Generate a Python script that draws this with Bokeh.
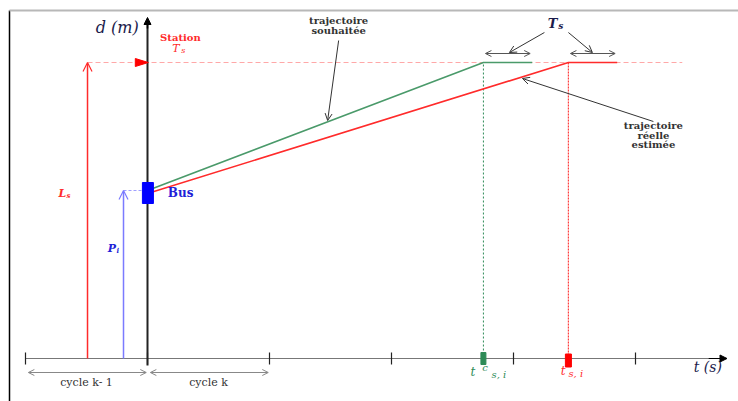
from bokeh.plotting import figure
from bokeh.models import Range1d, Arrow, OpenHead, NormalHead
from bokeh.core.properties import value
from bokeh.embed import file_html
from bokeh.resources import INLINE

# ---------------- data (time in s, distance in m) ----------------
cycle_ticks = [-30, 0, 30, 60, 90, 120]
cycle_names = ["cycle k- 1", "cycle k"]
L_s = 296            # station position
P_i = 168            # bus position
bus_d = 165.5        # bus marker centre
t_c = 82.6           # desired arrival time  t^c_{s,i}
t_s = 103.5          # estimated arrival time t_{s,i}
T_s = 12             # dwell time at station
desired_t = [0, 82.6, 94.6]
desired_d = [168, 296, 296]
real_t = [0, 103.5, 115.5]
real_d = [165, 296, 296]

# ---------------- layout / styles ----------------
SX = 122 / 30.0       # px per second
W, H = 738, 401
SERIF = value("DejaVu Serif")
NAVY = "#1c1c4c"
RED = "#ff2b2b"
GREEN = "#4a9a6a"
DGREEN = "#2e8b57"
BLUE = "#1f1fd8"
GRAY = "#555555"

p = figure(width=W, height=H,
           x_range=Range1d(-147 / SX, (W - 147) / SX), y_range=Range1d(358 - H, 358),
           x_axis_type=None, y_axis_type=None, toolbar_location=None,
           output_backend="svg", min_border=0, outline_line_color=None,
           background_fill_color="white", border_fill_color="white")

x_ls = -14.75   # L_s arrow position
x_pi = -5.9     # P_i arrow position
x_left = -138 / SX

# frame lines (left / top)
p.segment(x0=[x_left], y0=[358 - H], x1=[x_left], y1=[348], line_color="black", line_width=1.5)
p.segment(x0=[x_left], y0=[348], x1=[(W - 147) / SX], y1=[348], line_color="#b8b8b8", line_width=2)

# station dashed level
p.line([x_ls, 131.5], [L_s, L_s], line_color="#ffa8a8", line_width=1.2, line_dash="5 3")

# dotted arrival verticals
p.line([t_c, t_c], [0, L_s], line_color=DGREEN, line_width=1, line_dash="2 2")
p.line([t_s, t_s], [0, L_s], line_color="#ff4040", line_width=1.2, line_dash="2 1")

# time axis
p.line([cycle_ticks[0], 141.9], [0, 0], line_color="#777777", line_width=1)
p.add_layout(Arrow(end=NormalHead(size=7, fill_color="black", line_color="black"),
                   x_start=138, y_start=0, x_end=142.5, y_end=0,
                   line_color="black", line_width=1))
p.segment(x0=cycle_ticks, y0=[-6] * 6, x1=cycle_ticks, y1=[6] * 6,
          line_color="#222222", line_width=1.2)

# distance axis
p.line([0, 0], [-7, 336], line_color="#222222", line_width=2)
p.add_layout(Arrow(end=NormalHead(size=7, fill_color="black", line_color="black"),
                   x_start=0, y_start=330, x_end=0, y_end=341,
                   line_color="black", line_width=1.5))

# L_s and P_i arrows
p.add_layout(Arrow(end=OpenHead(size=9, line_color=RED, line_width=1.2),
                   x_start=x_ls, y_start=0, x_end=x_ls, y_end=L_s,
                   line_color=RED, line_width=1.5))
p.add_layout(Arrow(end=OpenHead(size=9, line_color="#7b7bff", line_width=1.2),
                   x_start=x_pi, y_start=0, x_end=x_pi, y_end=P_i,
                   line_color="#7b7bff", line_width=1.5))
p.line([x_pi, -1.3], [P_i, P_i], line_color="#a0a0ff", line_width=1, line_dash="3 2")

# trajectories
p.line(desired_t, desired_d, line_color=GREEN, line_width=1.6)
p.line(real_t, real_d, line_color=RED, line_width=1.6)

# station triangle
p.patch([-3.0, 0.2, -3.0], [L_s + 4, L_s, L_s - 4], fill_color="red", line_color="red")

# bus
p.rect(x=[0.1], y=[bus_d], width=11, height=21, width_units="screen",
       height_units="screen", fill_color="#0000ff", line_color="#0000ff")

# arrival markers on time axis
p.rect(x=[t_c], y=[0], width=5, height=12, width_units="screen", height_units="screen",
       fill_color=DGREEN, line_color=DGREEN)
p.rect(x=[t_s], y=[-2], width=6, height=13, width_units="screen", height_units="screen",
       fill_color="red", line_color="red")

# cycle arrows
for a, b in zip(cycle_ticks[:2], cycle_ticks[1:3]):
    p.add_layout(Arrow(start=OpenHead(size=6, line_color="#888888", line_width=1),
                       end=OpenHead(size=6, line_color="#888888", line_width=1),
                       x_start=a + 0.7, y_start=-14, x_end=b - 0.3, y_end=-14,
                       line_color="#888888", line_width=1))
p.text(x=[(a + b) / 2 for a, b in zip(cycle_ticks[:2], cycle_ticks[1:3])], y=[-24, -24],
       text=cycle_names, text_font=SERIF, text_font_size="11px", text_color="#333333",
       text_align="center", text_baseline="middle")

# dwell-time double arrows
for t0 in [t_c, t_s]:
    p.add_layout(Arrow(start=OpenHead(size=6, line_color=GRAY, line_width=1),
                       end=OpenHead(size=6, line_color=GRAY, line_width=1),
                       x_start=t0 + 0.5, y_start=305, x_end=t0 + T_s - 0.5, y_end=305,
                       line_color=GRAY, line_width=1))

# annotation arrows
def note_arrow(x0, y0, x1, y1):
    p.add_layout(Arrow(end=OpenHead(size=7, line_color="#333333", line_width=1),
                       x_start=x0, y_start=y0, x_end=x1, y_end=y1,
                       line_color="#333333", line_width=1))

note_arrow(47.0, 318, 44.3, 238)
note_arrow(97.6, 326, 89.0, 306)
note_arrow(103.5, 326, 109.4, 306)
note_arrow(124.4, 237, 92.2, 280)

def label(x, y, txt, color, size, style="normal", align="left", baseline="middle"):
    p.text(x=[x], y=[y], text=[txt], text_font=SERIF, text_font_size=size,
           text_font_style=style, text_color=color, text_align=align,
           text_baseline=baseline)

# axis labels
label(-0.9, 331, "d  (m)", NAVY, "16px", "italic", align="right")
label(134.3, -8, "t   (s)", NAVY, "14px", "italic")

# station
label(8.1, 321, "Station", RED, "10px", "bold", align="center")
label(6.1, 310, "T", RED, "11px", "italic")
label(8.3, 308, "s", RED, "8px", "italic")

# top T_s
label(98.4, 335, "T", NAVY, "13px", "bold italic")
label(101.0, 333, "s", NAVY, "9px", "bold italic")

# L_s, P_i
label(-21.9, 165, "L", RED, "11px", "bold italic")
label(-19.9, 163, "s", RED, "7px", "bold italic")
label(-9.8, 110, "P", BLUE, "11px", "bold italic")
label(-7.6, 108, "i", BLUE, "7px", "bold italic")

# bus
label(5.0, 166, "Bus", BLUE, "12px", "bold")

# arrival times
label(79.4, -13, "t", DGREEN, "12px", "italic")
label(82.3, -9, "c", DGREEN, "10px", "italic")
label(84.6, -16, "s, i", DGREEN, "10px", "italic")
label(101.6, -12, "t", RED, "12px", "italic")
label(103.5, -15, "s, i", RED, "10px", "italic")

# trajectory notes
p.text(x=[47.0, 47.0], y=[338, 328.5], text=["trajectoire", "souhaitée"], text_font=SERIF,
       text_font_size="10px", text_font_style="bold", text_color="#333333",
       text_align="center", text_baseline="middle")
p.text(x=[124.4] * 3, y=[233, 223.5, 214], text=["trajectoire", "réelle", "estimée"],
       text_font=SERIF, text_font_size="10px", text_font_style="bold",
       text_color="#333333", text_align="center", text_baseline="middle")

open("out.html", "w").write(file_html(p, INLINE))
